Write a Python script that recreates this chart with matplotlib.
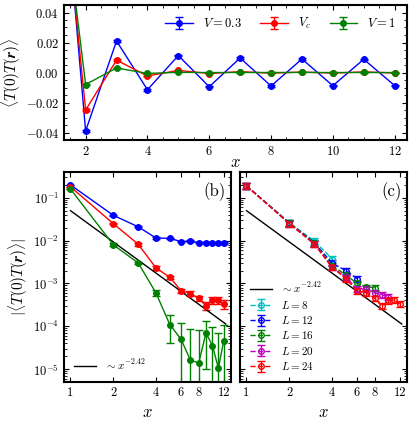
import numpy as np
import matplotlib
matplotlib.use('Agg')
from matplotlib import pyplot as plt

plt.rcParams.update({'font.family': 'serif', 'font.serif': ['cmr10'], 'mathtext.fontset': 'cm',
                     'axes.unicode_minus': False, 'axes.formatter.use_mathtext': True,
                     'font.size': 9, 'xtick.labelsize': 9, 'ytick.labelsize': 9,
                     'xtick.direction': 'in', 'ytick.direction': 'in',
                     'xtick.top': True, 'ytick.right': True})

x = np.arange(1, 13)
# signed correlations (first point is off the top of panel a)
v03 = [0.20, -0.039, 0.021, -0.0115, 0.0113, -0.0095, 0.0097, -0.0090, 0.0090, -0.0088, 0.0088, -0.0087]
vc = [0.18, -0.025, 0.0082, -0.0023, 0.0014, -0.00068, 0.00058, -0.00045, 0.00030, -0.00040, 0.00041, -0.00033]
v1 = [0.16, -0.008, 0.0030, -0.0006, 0.00011, -0.00005, 0.000016, -0.000014, 0.00007, -0.000035, 0.0000105, -0.000046]
err03 = [0.002, 0.0008, 0.0006, 0.0005, 0.0005, 0.0004, 0.0004, 0.0004, 0.0004, 0.0004, 0.0004, 0.0004]
errc = [0.002, 0.0008, 0.0006, 0.0002, 0.0001, 0.00008, 0.00008, 0.00007, 0.00006, 0.00007, 0.00007, 0.00007]
err1 = [0.002, 0.0006, 0.0002, 0.0001, 0.00007, 0.00007, 0.00007, 0.00007, 0.00006, 0.00006, 0.00006, 0.00006]

sizes = [8, 12, 16, 20, 24]
fss = {
    8: [0.19, 0.026, 0.0098, 0.0038],
    12: [0.19, 0.026, 0.0090, 0.0030, 0.0020, 0.0013],
    16: [0.19, 0.026, 0.0088, 0.0026, 0.0016, 0.0010, 0.00082, 0.00080],
    20: [0.19, 0.025, 0.0085, 0.0024, 0.0014, 0.00075, 0.00075, 0.00060, 0.00055, 0.00048],
    24: [0.19, 0.025, 0.0083, 0.0024, 0.0013, 0.00068, 0.00060, 0.00045, 0.00030, 0.00040, 0.00041, 0.00033],
}
fss_col = {8: 'c', 12: 'b', 16: 'g', 20: 'm', 24: 'r'}
amp, expo = 0.05, -2.42

fig = plt.figure(figsize=(4.16, 4.25), dpi=100)
ax = fig.add_axes([64/416, 1-140/425, 343/416, 135/425])
for y, e, c, lab in [(v03, err03, 'b', r'$V=0.3$'), (vc, errc, 'r', r'$V_c$'), (v1, err1, 'g', r'$V=1$')]:
    ax.errorbar(x, y, yerr=e, color=c, marker='o', ms=4, lw=1, capsize=3, label=lab)
ax.set_xlim(1.3, 12.4)
ax.set_ylim(-0.045, 0.045)
ax.set_xticks([2, 4, 6, 8, 10, 12])
ax.set_yticks([-0.04, -0.02, 0, 0.02, 0.04])
ax.set_yticklabels([r'$-0.04$', r'$-0.02$', r'$0.00$', r'$0.02$', r'$0.04$'])
ax.minorticks_on()
ax.set_xlabel(r'$x$', fontsize=12, labelpad=-2)
ax.set_ylabel(r'$\langle T(0)T(\boldsymbol{r})\rangle$', fontsize=11, labelpad=2)
ax.legend(loc='upper right', ncol=3, frameon=False, fontsize=9, handlelength=2.2, columnspacing=1.5)

xs = np.linspace(1, 12.4, 50)
axb = fig.add_axes([64/416, 1-382/425, 167/416, 210/425])
axc = fig.add_axes([240/416, 1-382/425, 167/416, 210/425], sharey=axb)
for y, e, c in [(v03, err03, 'b'), (vc, errc, 'r'), (v1, err1, 'g')]:
    axb.errorbar(x, np.abs(y), yerr=e, color=c, marker='o', ms=4, lw=1, capsize=3)
axb.plot(xs, amp*xs**expo, 'k-', lw=1, label=r'$\sim x^{-2.42}$')
axb.legend(loc='lower left', frameon=False, fontsize=8)
axc.plot(xs, amp*xs**expo, 'k-', lw=1, label=r'$\sim x^{-2.42}$')
for L in sizes:
    yy = fss[L]
    xx = np.arange(1, len(yy)+1)
    axc.errorbar(xx, yy, yerr=np.array(yy)*0.15, color=fss_col[L], ls='--', marker='o', ms=4,
                 mfc='none', lw=1, capsize=3, label=r'$L=%d$' % L)
axc.legend(loc='lower left', bbox_to_anchor=(0, 0.0), frameon=False, fontsize=8,
           labelspacing=0.3, handlelength=2.0)
for a, t in [(axb, '(b)'), (axc, '(c)')]:
    a.set_xscale('log')
    a.set_yscale('log')
    a.set_xlim(0.9, 13.5)
    a.set_ylim(5e-6, 0.4)
    a.set_xticks([1, 2, 4, 6, 8, 12])
    a.set_xticklabels(['1', '2', '4', '6', '8', '12'])
    a.set_xticks([], minor=True)
    a.set_xlabel(r'$x$', fontsize=12)
    a.text(0.97, 0.95, t, transform=a.transAxes, ha='right', va='top', fontsize=12)
    for s in a.spines.values():
        s.set_linewidth(1.5)
axb.set_ylabel(r'$|\langle T(0)T(\boldsymbol{r})\rangle|$', fontsize=11, labelpad=2)
plt.setp(axc.get_yticklabels(), visible=False)
for s in ax.spines.values():
    s.set_linewidth(1.5)

fig.savefig('out.png', dpi=100)
